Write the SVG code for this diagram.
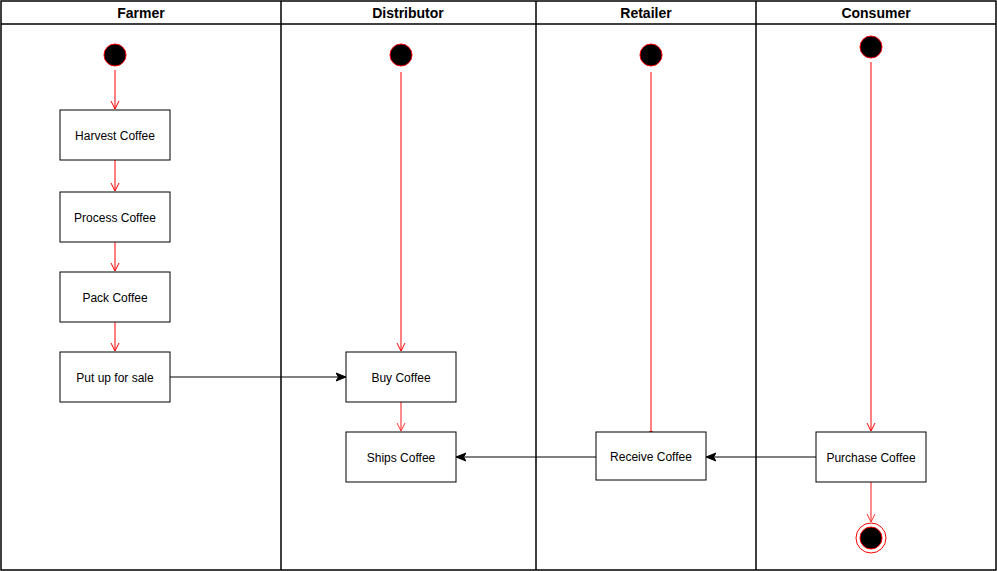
<svg xmlns="http://www.w3.org/2000/svg" width="997" height="571" viewBox="0 0 997 571">
<style>
.lane{fill:none;stroke:#000;stroke-width:1.5}
.hdr{font-family:"Liberation Sans",Arial,sans-serif;font-size:14px;font-weight:bold;text-anchor:middle;fill:#000}
.box rect{fill:#fff;stroke:#000;stroke-width:1}
.box text{font-family:"Liberation Sans",Arial,sans-serif;font-size:12px;text-anchor:middle;fill:#000}
.start{fill:#000;stroke:#ff0000;stroke-width:1}
.red{stroke:#ff0000;stroke-width:1;fill:none}
.lred{stroke:#ff6666;stroke-width:1.5;fill:none}
.blk{stroke:#000;stroke-width:1;fill:none}
</style>
<defs>
<marker id="open" viewBox="0 0 10 10" refX="9" refY="5" markerWidth="10" markerHeight="10" markerUnits="userSpaceOnUse" orient="auto">
<path d="M1,1 L9,5 L1,9" fill="none" stroke="#ff0000" stroke-width="1"/>
</marker>
<marker id="openl" viewBox="0 0 10 10" refX="9" refY="5" markerWidth="10" markerHeight="10" markerUnits="userSpaceOnUse" orient="auto">
<path d="M1,1 L9,5 L1,9" fill="none" stroke="#ff3333" stroke-width="1"/>
</marker>
<marker id="fill" viewBox="0 0 10 10" refX="9" refY="5" markerWidth="10" markerHeight="10" markerUnits="userSpaceOnUse" orient="auto">
<path d="M0,1 L10,5 L0,9 L2.5,5 Z" fill="#000" stroke="#000" stroke-width="1"/>
</marker>
</defs>
<rect x="0" y="0" width="997" height="571" fill="#fff"/>
<g id="lanes">
<rect class="lane" x="1" y="1" width="995" height="569"/>
<line class="lane" x1="1" y1="24" x2="996" y2="24"/>
<line class="lane" x1="281" y1="1" x2="281" y2="570"/>
<line class="lane" x1="536" y1="1" x2="536" y2="570"/>
<line class="lane" x1="756" y1="1" x2="756" y2="570"/>
<text class="hdr" x="141" y="18">Farmer</text>
<text class="hdr" x="408" y="18">Distributor</text>
<text class="hdr" x="646" y="18">Retailer</text>
<text class="hdr" x="876" y="18">Consumer</text>
</g>
<g id="connectors">
<line class="red" x1="115" y1="70" x2="115" y2="109" marker-end="url(#open)"/>
<line class="red" x1="115" y1="160" x2="115" y2="191" marker-end="url(#open)"/>
<line class="red" x1="115" y1="242" x2="115" y2="271" marker-end="url(#open)"/>
<line class="red" x1="115" y1="322" x2="115" y2="351" marker-end="url(#open)"/>
<line class="blk" x1="170" y1="377" x2="345" y2="377" marker-end="url(#fill)"/>
<line class="red" x1="401" y1="72" x2="401" y2="351" marker-end="url(#open)"/>
<line class="lred" x1="401" y1="402" x2="401" y2="431" marker-end="url(#openl)"/>
<line class="red" x1="651" y1="72" x2="651" y2="432"/>
<path d="M649,432 L653,432" stroke="#ff0000" stroke-width="1.5"/>
<line class="red" x1="871" y1="62" x2="871" y2="431" marker-end="url(#open)"/>
<line class="blk" x1="596" y1="457" x2="457" y2="457" marker-end="url(#fill)"/>
<line class="blk" x1="816" y1="457" x2="707" y2="457" marker-end="url(#fill)"/>
<line class="lred" x1="871" y1="482" x2="871" y2="522" marker-end="url(#openl)"/>
</g>
<g id="start-farmer"><circle class="start" cx="115" cy="55" r="11"/></g>
<g id="start-distributor"><circle class="start" cx="401" cy="55" r="11"/></g>
<g id="start-retailer"><circle class="start" cx="651" cy="55" r="11"/></g>
<g id="start-consumer"><circle class="start" cx="871" cy="47" r="11"/></g>
<g id="harvest" class="box"><rect x="60" y="110" width="110" height="50"/><text x="115" y="139.5">Harvest Coffee</text></g>
<g id="process" class="box"><rect x="60" y="192" width="110" height="50"/><text x="115" y="221.5">Process Coffee</text></g>
<g id="pack" class="box"><rect x="60" y="272" width="110" height="50"/><text x="115" y="301.5">Pack Coffee</text></g>
<g id="putup" class="box"><rect x="60" y="352" width="110" height="50"/><text x="115" y="381.5">Put up for sale</text></g>
<g id="buy" class="box"><rect x="346" y="352" width="110" height="50"/><text x="401" y="381.5">Buy Coffee</text></g>
<g id="ships" class="box"><rect x="346" y="432" width="110" height="50"/><text x="401" y="461.5">Ships Coffee</text></g>
<g id="receive" class="box"><rect x="596" y="432" width="110" height="48"/><text x="651" y="460.5">Receive Coffee</text></g>
<g id="purchase" class="box"><rect x="816" y="432" width="110" height="50"/><text x="871" y="461.5">Purchase Coffee</text></g>
<g id="end-consumer">
<circle cx="871" cy="538" r="15" fill="#fff" stroke="#ff0000" stroke-width="1"/>
<circle cx="871" cy="538" r="11" fill="#000" stroke="#ff0000" stroke-width="1"/>
</g>
</svg>
